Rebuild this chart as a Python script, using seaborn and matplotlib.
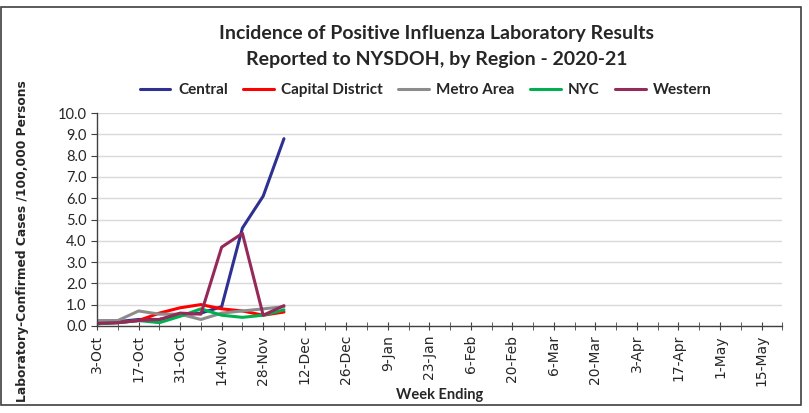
import numpy as np
import pandas as pd
import seaborn as sns
import matplotlib.pyplot as plt
from matplotlib.patches import Rectangle

weeks = ['3-Oct', '10-Oct', '17-Oct', '24-Oct', '31-Oct', '7-Nov', '14-Nov', '21-Nov',
         '28-Nov', '5-Dec', '12-Dec', '19-Dec', '26-Dec', '2-Jan', '9-Jan', '16-Jan',
         '23-Jan', '30-Jan', '6-Feb', '13-Feb', '20-Feb', '27-Feb', '6-Mar', '13-Mar',
         '20-Mar', '27-Mar', '3-Apr', '10-Apr', '17-Apr', '24-Apr', '1-May', '8-May',
         '15-May', '22-May']

central = [0.1, 0.2, 0.3, 0.3, 0.5, 0.6, 0.9, 4.6, 6.1, 8.8]
capital = [0.1, 0.15, 0.25, 0.6, 0.85, 1.0, 0.8, 0.7, 0.5, 0.65]
metro = [0.25, 0.25, 0.7, 0.55, 0.55, 0.3, 0.6, 0.7, 0.8, 0.9]
nyc = [0.1, 0.15, 0.25, 0.15, 0.45, 0.8, 0.5, 0.4, 0.5, 0.75]
western = [0.12, 0.15, 0.25, 0.3, 0.6, 0.55, 3.7, 4.35, 0.5, 0.95]

regions = ['Central', 'Capital District', 'Metro Area', 'NYC', 'Western']
colors = ['#2E3192', '#FF0000', '#8C8C8C', '#00B050', '#952A5A']
yticks = np.arange(0, 11)

rows = []
for name, vals in zip(regions, [central, capital, metro, nyc, western]):
    for i, v in enumerate(vals):
        rows.append({'week': i, 'value': v, 'region': name})
df = pd.DataFrame(rows)

sns.set_style('white')
plt.rcParams['font.family'] = ['Lato', 'DejaVu Sans']

fig = plt.figure(figsize=(8.09, 4.13), dpi=100)
ax = fig.add_axes([0.12, 0.211, 0.847, 0.515])

sns.lineplot(data=df, x='week', y='value', hue='region', hue_order=regions,
             palette=colors, linewidth=2.2, ax=ax)

ax.set_xlim(0, len(weeks) - 1)
ax.set_ylim(0, 10)
ax.set_yticks(yticks)
ax.set_yticklabels([f'{v:.1f}' for v in yticks], fontsize=10.5)
ax.grid(axis='y', color='#D9D9D9', linewidth=1)
ax.set_axisbelow(True)

ax.set_xticks(range(0, len(weeks), 2))
ax.set_xticklabels(weeks[::2], rotation=90, fontsize=10, family='DejaVu Sans')
ax.set_xticks(range(len(weeks)), minor=True)
ax.tick_params(axis='x', which='both', direction='inout', length=6, color='#404040', bottom=True)
ax.tick_params(axis='y', direction='out', length=4, color='#404040', left=True)

for s in ['top', 'right']:
    ax.spines[s].set_visible(False)
for s in ['left', 'bottom']:
    ax.spines[s].set_color('#404040')
    ax.spines[s].set_linewidth(1)

ax.set_xlabel('Week Ending', fontsize=10.5, fontweight='bold', labelpad=1)
ax.set_ylabel('Laboratory-Confirmed Cases /100,000 Persons', fontsize=8.8,
              fontweight='bold', family='DejaVu Sans')
ax.yaxis.set_label_coords(-0.1, 0.40)

fig.text(0.54, 0.92, 'Incidence of Positive Influenza Laboratory Results',
         ha='center', va='center', fontsize=14, fontweight='bold', color='#262626')
fig.text(0.54, 0.857, 'Reported to NYSDOH, by Region - 2020-21',
         ha='center', va='center', fontsize=14, fontweight='bold', color='#262626')

ax.legend(loc='lower center', bbox_to_anchor=(0.48, 1.01), ncol=5, frameon=False,
          handlelength=2.0, columnspacing=1.0, handletextpad=0.5,
          prop={'weight': 'bold', 'size': 11})

fig.patches.append(Rectangle((0.0015, 0.019), 0.988, 0.965, transform=fig.transFigure,
                             fill=False, edgecolor='#404040', linewidth=1.2))

fig.savefig('out.png', dpi=100)
